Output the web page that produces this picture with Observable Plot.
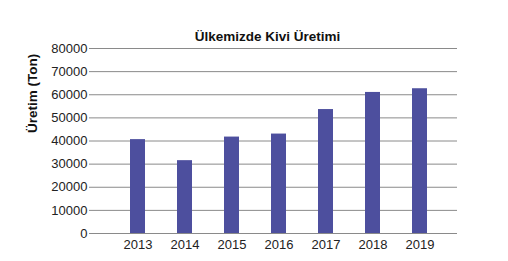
<!DOCTYPE html>
<html>
<head>
<meta charset="utf-8">
<script src="https://cdn.jsdelivr.net/npm/d3@7"></script>
<script src="https://cdn.jsdelivr.net/npm/@observablehq/plot@0.6"></script>
<style>
  html, body { margin: 0; padding: 0; background: #fff; }
  #chart { width: 508px; height: 261px; }
</style>
</head>
<body>
<div id="chart"></div>
<script>
const years = ["2013", "2014", "2015", "2016", "2017", "2018", "2019"];
const production = [40600, 31500, 41700, 43000, 53600, 61000, 62600];
const yTicks = [0, 10000, 20000, 30000, 40000, 50000, 60000, 70000, 80000];
const title = "Ülkemizde Kivi Üretimi";
const yLabel = "Üretim (Ton)";

const data = years.map((y, i) => ({year: y, value: production[i]}));

const chart = Plot.plot({
  width: 508,
  height: 261,
  marginTop: 48,
  marginBottom: 28,
  marginLeft: 93,
  marginRight: 51,
  style: {fontFamily: "'Liberation Sans', Arial, sans-serif", fontSize: "13px", color: "#222", background: "#fff"},
  x: {domain: years, paddingInner: 0.69, paddingOuter: 0.345, insetLeft: 21, insetRight: 14, label: null},
  y: {domain: [0, 80000], label: null},
  marks: [
    Plot.ruleY(yTicks, {stroke: "#8a8a8a", strokeWidth: 1}),
    Plot.ruleX([0], {frameAnchor: "left", stroke: "#9a9a9a"}),
    Plot.barY(data, {x: "year", y: "value", fill: "#4d4f9e"}),
    Plot.axisY({ticks: yTicks, tickFormat: d => String(d), tickSize: 4, tickPadding: 2, stroke: "#8a8a8a", fontSize: 13, label: null}),
    Plot.axisX({tickSize: 0, tickPadding: 6, fontSize: 13, label: null}),
    Plot.text([title], {frameAnchor: "top", dx: -8, dy: -8, lineAnchor: "bottom", fontWeight: "bold", fontSize: 13.5, fill: "#111"}),
    Plot.text([yLabel], {frameAnchor: "left", dx: -61, dy: -8, rotate: -90, fontWeight: "bold", fontSize: 13.5, fill: "#111"})
  ]
});
document.getElementById("chart").appendChild(chart);
</script>
</body>
</html>
